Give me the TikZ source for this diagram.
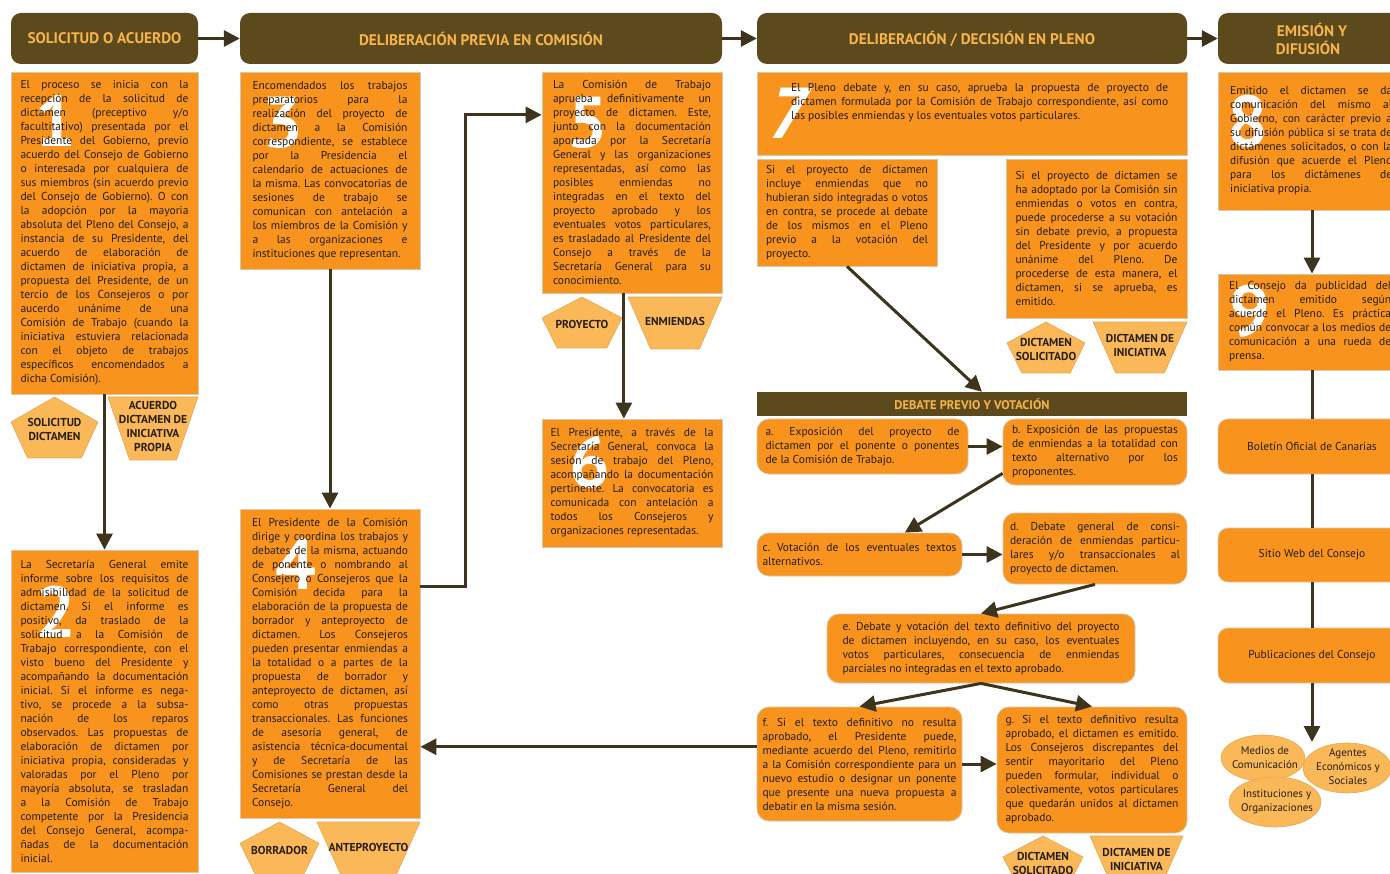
\documentclass[tikz,border=0pt]{standalone}
\usepackage{fontspec}
\setmainfont{PT Sans}
\usetikzlibrary{positioning,calc,arrows.meta,shapes.geometric}

\definecolor{hdrfill}{RGB}{93,74,28}
\definecolor{hdrtext}{RGB}{248,180,76}
\definecolor{cardfill}{RGB}{248,148,29}
\definecolor{cardline}{RGB}{214,198,172}
\definecolor{tagfill}{RGB}{251,184,88}
\definecolor{tagline}{RGB}{226,168,84}
\definecolor{arrowc}{RGB}{62,52,30}
\definecolor{textc}{RGB}{38,30,20}

\newcommand{\bodyfont}{\fontsize{11.5}{14}\selectfont\frenchspacing\hyphenpenalty=10000\exhyphenpenalty=10000\tolerance=10000\relax}
\newcommand{\headfont}{\fontsize{15.3}{18}\selectfont\bfseries}
\newcommand{\tagfont}{\fontsize{11.5}{14}\selectfont\bfseries}
\newcommand{\numfont}{\fontsize{72}{72}\selectfont\bfseries}
\newcommand{\jl}{\linebreak}

% pentagon tag: name, x, y, width, height, text
\newcommand{\pentatag}[6]{%
  \draw[tagshape] ({#2+#4/2},#3) -- ({#2+#4},{#3+0.41*#5}) -- ({#2+0.81*#4},{#3+#5})
    -- ({#2+0.19*#4},{#3+#5}) -- (#2,{#3+0.41*#5}) -- cycle;
  \node[tagtext] (#1) at ({#2+#4/2},{#3+0.54*#5}) {#6};}
% trapezoid tag: name, x, y, width, height, text
\newcommand{\trapetag}[6]{%
  \draw[tagshape] (#2,#3) -- ({#2+#4},#3) -- ({#2+0.76*#4},{#3+#5}) -- ({#2+0.24*#4},{#3+#5}) -- cycle;
  \node[tagtext] (#1) at ({#2+#4/2},{#3+0.47*#5}) {#6};}

\tikzset{
  boxsize/.style 2 args={minimum width=#1, minimum height=#2},
  header/.style={fill=hdrfill, rounded corners=10pt, text=hdrtext, font=\headfont, align=center, inner sep=0pt},
  bar/.style={fill=hdrfill, text=hdrtext, font=\fontsize{12.5}{14}\selectfont\bfseries, inner sep=0pt},
  card/.style={fill=cardfill, draw=cardline, line width=0.8pt, inner sep=0pt},
  roundcard/.style={card, rounded corners=12pt, text=textc, font=\bodyfont},
  cardtext/.style={text=textc, align=justify, inner sep=0pt, font=\bodyfont},
  bignum/.style={text=white, font=\numfont, inner sep=0pt},
  tagshape/.style={fill=tagfill, draw=tagline, line width=0.6pt},
  tagtext/.style={text=textc, font=\tagfont, align=center, inner sep=0pt},
  audience/.style={ellipse, fill=tagfill, draw=tagline, line width=0.6pt, inner sep=0pt},
  audtext/.style={text=textc, font=\fontsize{11}{14}\selectfont, align=center, inner sep=0pt},
  flow/.style={draw=arrowc, line width=3pt, -{Triangle[length=16pt,width=16pt]}},
  link/.style={draw=arrowc, line width=3pt}
}

\begin{document}
\begin{tikzpicture}[x=1pt,y=-1pt]
\fill[white] (0,0) rectangle (1390,874);
\useasboundingbox (0,0) rectangle (1390,874);

% column headers
\node[header, boxsize={187pt}{51pt}] (h1) at (104.5,38.5) {SOLICITUD O ACUERDO};
\node[header, boxsize={482pt}{51pt}] (h2) at (481,38.5) {DELIBERACIÓN PREVIA EN COMISIÓN};
\node[header, boxsize={430pt}{51pt}] (h3) at (972,38.5) {DELIBERACIÓN / DECISIÓN EN PLENO};
\node[header, boxsize={188pt}{51pt}] (h4) at (1312,38.5) {EMISIÓN Y\\DIFUSIÓN\hspace*{8pt}};
\draw[flow] (h1) -- (h2);
\draw[flow] (h2) -- (h3);
\draw[flow] (h3) -- (h4);

% 1 solicitud
\node[card, boxsize={187pt}{322pt}] (b1) at (104.5,233) {};
\node[bignum] (n1) at ([shift={(45,49)}]b1.north west) {1};
\node[cardtext, text width=168pt] (t1) at (b1) {El proceso se inicia con la\jl
recepción de la solicitud de\jl
dictamen (preceptivo y/o\jl
facultitativo) presentada por el\jl
Presidente del Gobierno, previo\jl
acuerdo del Consejo de Gobierno\jl
o interesada por cualquiera de\jl
sus miembros (sin acuerdo previo\jl
del Consejo de Gobierno). O con\jl
la adopción por la mayoria\jl
absoluta del Pleno del Consejo, a\jl
instancia de su Presidente, del\jl
acuerdo de elaboración de\jl
dictamen de iniciativa propia, a\jl
propuesta del Presidente, de un\jl
tercio de los Consejeros o por\jl
aucerdo unánime de una\jl
Comisión de Trabajo (cuando la\jl
iniciativa estuviera relacionada\jl
con el objeto de trabajos\jl
específicos encomendados a\jl
dicha Comisión).};
\pentatag{solic}{11}{397}{87}{61}{SOLICITUD\\DICTAMEN}
\trapetag{acuerdo}{108}{397}{90}{63}{ACUERDO\\DICTAMEN DE\\INICIATIVA\\PROPIA}

% 2 admision
\node[card, boxsize={187pt}{322pt}] (b2) at (104.5,711) {};
\node[bignum] (n2) at ([shift={(45,62)}]b2.north west) {2};
\node[cardtext, text width=168pt] (t2) at (b2) {La Secretaría General emite\jl
informe sobre los requisitos de\jl
admisibilidad de la solicitud de\jl
dictamen. Si el informe es\jl
positivo, da traslado de la\jl
solicitud a la Comisión de\jl
Trabajo correspondiente, con el\jl
visto bueno del Presidente y\jl
acompañando la documentación\jl
inicial. Si el informe es nega-\jl
tivo, se procede a la subsa-\jl
nación de los reparos\jl
observados. Las propuestas de\jl
elaboración de dictamen por\jl
iniciativa propia, consideradas y\jl
valoradas por el Pleno por\jl
mayoría absoluta, se trasladan\jl
a la Comisión de Trabajo\jl
competente por la Presidencia\jl
del Consejo General, acompa-\jl
ñadas de la documentación\jl
inicial.};
\draw[flow] (b1) -- (b2);

% 3 encomienda
\node[card, boxsize={180pt}{197pt}] (b3) at (330,170.5) {};
\node[bignum] (n3) at ([shift={(43,51)}]b3.north west) {3};
\node[cardtext, text width=155pt] (t3) at (b3) {Encomendados los trabajos\jl
preparatorios para la\jl
realización del proyecto de\jl
dictamen a la Comisión\jl
correspondiente, se establece\jl
por la Presidencia el\jl
calendario de actuaciones de\jl
la misma. Las convocatorias de\jl
sesiones de trabajo se\jl
comunican con antelación a\jl
los miembros de la Comisión y\jl
a las organizaciones e\jl
instituciones que representan.};

% 4 ponencia
\node[card, boxsize={180pt}{309pt}] (b4) at (330,663.5) {};
\node[bignum] (n4) at ([shift={(56,56)}]b4.north west) {4};
\node[cardtext, text width=156pt] (t4) at (b4) {El Presidente de la Comisión\jl
dirige y coordina los trabajos y\jl
debates de la misma, actuando\jl
de ponente o nombrando al\jl
Consejero o Consejeros que la\jl
Comisión decida para la\jl
elaboración de la propuesta de\jl
borrador y anteproyecto de\jl
dictamen. Los Consejeros\jl
pueden presentar enmiendas a\jl
la totalidad o a partes de la\jl
propuesta de borrador y\jl
anteproyecto de dictamen, así\jl
como otras propuestas\jl
transaccionales. Las funciones\jl
de asesoría general, de\jl
asistencia técnica-documental\jl
y de Secretaría de las\jl
Comisiones se prestan desde la\jl
Secretaría General del\jl
Consejo.};
\pentatag{borrador}{240}{822}{79}{52}{BORRADOR}
\trapetag{antepro}{317}{822}{103}{55}{ANTEPROYECTO}
\draw[flow] (b3) -- (b4);

% 5 aprobacion en comision
\node[card, boxsize={180pt}{221pt}] (b5) at (632,182.5) {};
\node[bignum] (n5) at ([shift={(46,51)}]b5.north west) {5};
\node[cardtext, text width=158pt] (t5) at (b5) {La Comisión de Trabajo\jl
aprueba definitivamente un\jl
proyecto de dictamen. Este,\jl
junto con la documentación\jl
aportada por la Secretaría\jl
General y las organizaciones\jl
representadas, así como las\jl
posibles enmiendas no\jl
integradas en el texto del\jl
proyecto aprobado y los\jl
eventuales votos particulares,\jl
es trasladado al Presidente del\jl
Consejo a través de la\jl
Secretaría General para su\jl
conocimiento.};
\pentatag{proyecto}{542}{297}{80}{51}{PROYECTO}
\trapetag{enmiendas}{628}{297}{94}{52}{ENMIENDAS}
\draw[flow] ($(b4.north east)!0.25!(b4.south east)$) -- ++(45,0) |- ($(b5.north west)!0.195!(b5.south west)$);

% 6 convocatoria
\node[card, boxsize={180pt}{128pt}] (b6) at (632,483) {};
\node[bignum] (n6) at ([shift={(48,44)}]b6.north west) {6};
\node[cardtext, text width=163pt] (t6) at (b6) {El Presidente, a través de la\jl
Secretaría General, convoca la\jl
sesión de trabajo del Pleno,\jl
acompañando la documentación\jl
pertinente. La convocatoria es\jl
comunicada con antelación a\jl
todos los Consejeros y\jl
organizaciones representadas.};
\coordinate (p5) at ($(b5.south west)!0.455!(b5.south east)$);
\draw[flow] (p5) -- (p5 |- b6.north);

% 7 pleno
\node[card, boxsize={430pt}{83pt}] (b7) at (972,113.5) {};
\node[bignum] (n7) at ([shift={(34,42)}]b7.north west) {\textit{7}};
\node[cardtext, text width=377pt, anchor=north west] (t7) at (791,83) {El Pleno debate y, en su caso, aprueba la propuesta de proyecto de\jl
dictamen formulada por la Comisión de Trabajo correspondiente, así como\jl
las posibles enmiendas y los eventuales votos particulares.};

\node[card, boxsize={180pt}{107pt}] (b7a) at (847,212.5) {};
\node[cardtext, text width=162pt] (t7a) at (b7a) {Si el proyecto de dictamen\jl
incluye enmiendas que no\jl
hubieran sido integradas o votos\jl
en contra, se procede al debate\jl
de los mismos en el Pleno\jl
previo a la votación del\jl
proyecto.};

\node[card, boxsize={181pt}{159pt}] (b7b) at (1096.5,238.5) {};
\node[cardtext, text width=162pt] (t7b) at (b7b) {Si el proyecto de dictamen se\jl
ha adoptado por la Comisión sin\jl
enmiendas o votos en contra,\jl
puede procederse a su votación\jl
sin debate previo, a propuesta\jl
del Presidente y por acuerdo\jl
unánime del Pleno. De\jl
procederse de esta manera, el\jl
dictamen, si se aprueba, es\jl
emitido.};
\pentatag{solic7}{1007}{322}{78}{51}{DICTAMEN\\SOLICITADO}
\trapetag{inic7}{1093}{322}{94}{51}{DICTAMEN DE\\INICIATIVA}

% debate previo y votacion
\node[bar, boxsize={430pt}{24pt}] (bar) at (972,404) {DEBATE PREVIO Y VOTACIÓN};
\draw[flow] (b7a.south) -- ($(bar.north west)!0.523!(bar.north east)$);

\node[roundcard, boxsize={211pt}{55pt}, text width=194pt, align=justify] (sa) at (862.5,446.5) {a. Exposición del proyecto de\jl
dictamen por el ponente o ponentes\jl
de la Comisión de Trabajo.};
\node[roundcard, boxsize={184pt}{66pt}, text width=166pt, align=justify] (sb) at (1095,452) {b. Exposición de las propuestas\jl
de enmiendas a la totalidad con\jl
texto alternativo por los\jl
proponentes.};
\node[roundcard, boxsize={205pt}{43pt}, text width=194pt, align=justify] (sc) at (859.5,554.5) {c. Votación de los eventuales textos\jl
alternativos.};
\node[roundcard, boxsize={184pt}{71pt}, text width=170pt, align=justify] (sd) at (1095,548.5) {d. Debate general de consi-\jl
deración de enmiendas particu-\jl
lares y/o transaccionales al\jl
proyecto de dictamen.};
\node[roundcard, boxsize={308pt}{69pt}, text width=277pt, align=justify] (se) at (981,648.5) {e. Debate y votación del texto definitivo del proyecto\jl
de dictamen incluyendo, en su caso, los eventuales\jl
votos particulares, consecuencia de enmiendas\jl
parciales no integradas en el texto aprobado.};
\node[roundcard, boxsize={205pt}{114pt}, text width=194pt, align=justify] (sf) at (859.5,764) {f. Si el texto definitivo no resulta\jl
aprobado, el Presidente puede,\jl
mediante acuerdo del Pleno, remitirlo\jl
a la Comisión correspondiente para un\jl
nuevo estudio o designar un ponente\jl
que presente una nueva propuesta a\jl
debatir en la misma sesión.};
\node[roundcard, boxsize={190pt}{126pt}, text width=173pt, align=justify] (sg) at (1092,770) {g. Si el texto definitivo resulta\jl
aprobado, el dictamen es emitido.\jl
Los Consejeros discrepantes del\jl
sentir mayoritario del Pleno\jl
pueden formular, individual o\jl
colectivamente, votos particulares\jl
que quedarán unidos al dictamen\jl
aprobado.};
\pentatag{solicg}{1003}{836}{80}{51}{DICTAMEN\\SOLICITADO}
\trapetag{inicg}{1090}{836}{93}{51}{DICTAMEN DE\\INICIATIVA}

\draw[flow] (sa.east) -- (sa.east -| sb.west);
\draw[flow] ([yshift=12pt]sb.south west) -- ($(sc.north west)!0.72!(sc.north east)$);
\draw[flow] (sc.east) -- (sc.east -| sd.west);
\draw[flow] (sd.south) -- (se.north);
\draw[flow] (se.south) -- (sf.north);
\draw[flow] (se.south) -- (sg.north);
\draw[flow] (sf.east) -- (sf.east -| sg.west);
\coordinate (fret) at ($(sf.north west)!0.35!(sf.south west)$);
\draw[flow] (fret) -- (fret -| b4.east);

% 8 emision
\node[card, boxsize={188pt}{138pt}] (b8) at (1312,141) {};
\node[bignum] (n8) at ([shift={(30,50)}]b8.north west) {8};
\node[cardtext, text width=162pt, anchor=west] (t8) at (1230,141) {Emitido el dictamen se da\jl
comunicación del mismo al\jl
Gobierno, con carácter previo a\jl
su difusión pública si se trata de\jl
dictámenes solicitados, o con la\jl
difusión que acuerde el Pleno\jl
para los dictámenes de\jl
iniciativa propia.};

% 9 difusion
\node[card, boxsize={188pt}{96pt}] (b9) at (1312,322) {};
\node[bignum] (n9) at ([shift={(32,38)}]b9.north west) {9};
\node[cardtext, text width=162pt, anchor=west] (t9) at (1229,322) {El Consejo da publicidad del\jl
dictamen emitido según\jl
acuerde el Pleno. Es práctica\jl
común convocar a los medios de\jl
comunicación a una rueda de\jl
prensa.};
\draw[flow] (b8) -- (b9);

\node[roundcard, rounded corners=10pt, boxsize={188pt}{55pt}, align=center] (bol) at (1312,446.5) {Boletín Oficial de Canarias};
\node[roundcard, rounded corners=10pt, boxsize={188pt}{54pt}, align=center] (web) at (1312,555) {Sitio Web del Consejo};
\node[roundcard, rounded corners=10pt, boxsize={188pt}{55pt}, align=center] (pub) at (1312,655.5) {Publicaciones del Consejo};
\draw[link] (b9) -- (bol);
\draw[link] (bol) -- (web);
\draw[link] (web) -- (pub);
\coordinate (aud) at (1312,742);
\draw[flow] (pub) -- (aud);

% destinatarios
\node[audience, boxsize={84pt}{46pt}] (medios) at (1263,758) {};
\node[audtext] (tmedios) at (1265,758) {Medios de\\Comunicación};
\node[audience, boxsize={88pt}{50pt}] (agentes) at (1347,768) {};
\node[audtext] (tagentes) at (1348,767) {Agentes\\Económicos y\\Sociales};
\node[audience, boxsize={92pt}{50pt}] (instit) at (1275,802) {};
\node[audtext] (tinstit) at (1277,802) {Instituciones y\\Organizaciones};

\end{tikzpicture}
\end{document}
